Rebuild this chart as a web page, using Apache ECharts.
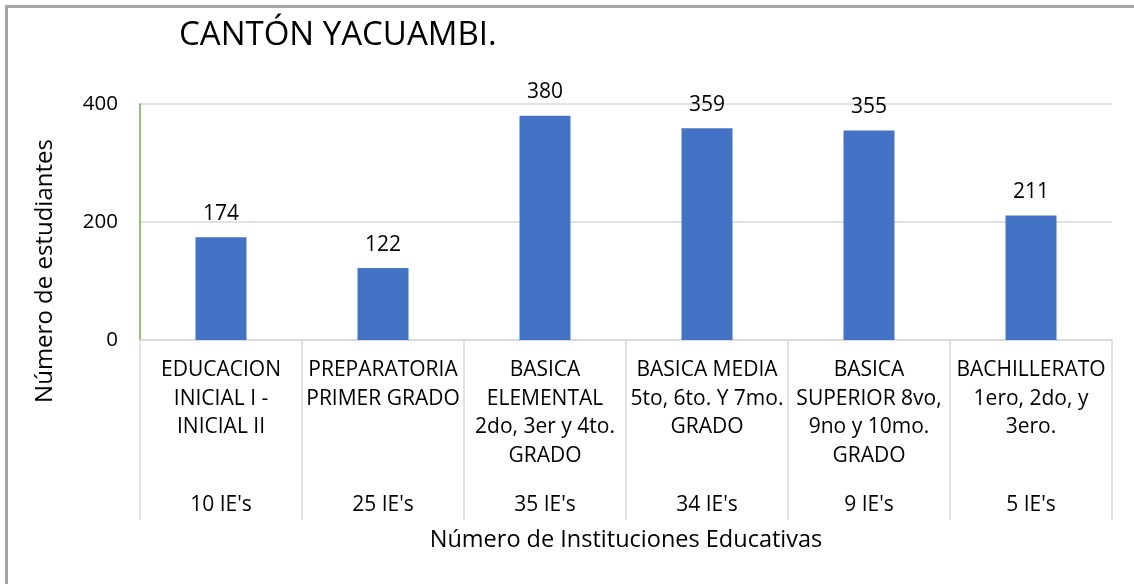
<!DOCTYPE html>
<html>
<head>
<meta charset="utf-8">
<script src="https://cdn.jsdelivr.net/npm/echarts@6/dist/echarts.min.js"></script>
<style>
  html, body { margin: 0; padding: 0; background: #fff; }
  #chart { width: 1134px; height: 584px; }
</style>
</head>
<body>
<div id="chart"></div>
<script>
// datos del gráfico
const categorias = [
  'EDUCACION\nINICIAL I -\nINICIAL II',
  'PREPARATORIA\nPRIMER GRADO',
  'BASICA\nELEMENTAL\n2do, 3er y 4to.\nGRADO',
  'BASICA MEDIA\n5to, 6to. Y 7mo.\nGRADO',
  'BASICA\nSUPERIOR 8vo,\n9no y 10mo.\nGRADO',
  'BACHILLERATO\n1ero, 2do, y\n3ero.'
]
const institucionesLabels = ["10 IE's", "25 IE's", "35 IE's", "34 IE's", "9 IE's", "5 IE's"]
const estudiantes = [174, 122, 380, 359, 355, 211]
const yTicks = [0, 200, 400]

const fuente = '"Open Sans", sans-serif'
const chart = echarts.init(document.getElementById('chart'))

const option = {
  animation: false,
  textStyle: { fontFamily: fuente, color: '#000' },
  grid: { left: 140, right: 22, top: 104, bottom: 244 },
  graphic: [
    {
      type: 'rect',
      shape: { x: 6.5, y: 6.5, width: 1200, height: 700 },
      style: { fill: 'none', stroke: '#a6a6a6', lineWidth: 3 }
    },
    {
      type: 'text',
      x: 179, y: 36,
      style: {
        text: 'CANTÓN YACUAMBI.',
        font: '33px ' + fuente,
        fill: '#000',
        textVerticalAlign: 'middle'
      }
    },
    {
      type: 'text',
      x: 45, y: 271,
      rotation: Math.PI / 2,
      style: {
        text: 'Número de estudiantes',
        font: '24px ' + fuente,
        fill: '#000',
        textAlign: 'center',
        textVerticalAlign: 'middle'
      }
    }
  ],
  xAxis: [
    {
      type: 'category',
      data: categorias,
      name: 'Número de Instituciones Educativas',
      nameLocation: 'middle',
      nameGap: 188,
      nameTextStyle: { fontSize: 23.5, color: '#000', verticalAlign: 'top' },
      axisLine: { lineStyle: { color: '#d9d9d9', width: 1.5 } },
      axisTick: { show: true, length: 180, interval: 0, lineStyle: { color: '#d9d9d9', width: 1.5 } },
      axisLabel: {
        interval: 0,
        margin: 16,
        fontSize: 21,
        lineHeight: 28.5,
        color: '#000',
        verticalAlign: 'top'
      }
    },
    {
      type: 'category',
      position: 'bottom',
      data: institucionesLabels,
      axisLine: { show: false },
      axisTick: { show: false },
      axisLabel: {
        interval: 0,
        margin: 151,
        fontSize: 21,
        lineHeight: 28.5,
        color: '#000',
        verticalAlign: 'top'
      }
    }
  ],
  yAxis: {
    type: 'value',
    min: yTicks[0],
    max: yTicks[yTicks.length - 1],
    interval: 200,
    axisLine: { show: true, lineStyle: { color: '#70ad47', width: 1.5 } },
    axisTick: { show: false },
    axisLabel: { fontSize: 20.5, color: '#000', margin: 22 },
    splitLine: { lineStyle: { color: '#d9d9d9', width: 1.5 } }
  },
  series: [
    {
      type: 'bar',
      data: estudiantes,
      barWidth: 51,
      itemStyle: { color: '#4472c4' },
      label: {
        show: true,
        position: 'top',
        distance: 13,
        fontSize: 21,
        color: '#000'
      }
    }
  ]
}

chart.setOption(option)
</script>
</body>
</html>
